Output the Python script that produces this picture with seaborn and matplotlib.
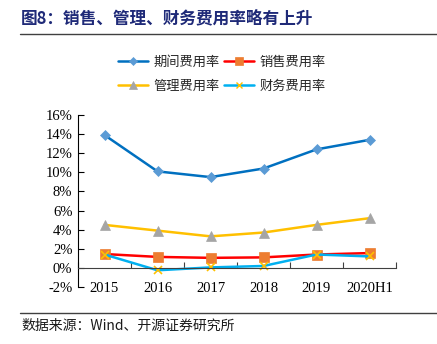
import matplotlib
matplotlib.use("Agg")
import matplotlib.pyplot as plt
from matplotlib.lines import Line2D
from matplotlib.ticker import MultipleLocator, FixedLocator, FuncFormatter
import seaborn as sns
import pandas as pd

# Expense ratios (%)
periods = ["2015", "2016", "2017", "2018", "2019", "2020H1"]
period_rate = [13.9, 10.1, 9.5, 10.4, 12.4, 13.4]
selling_rate = [1.45, 1.15, 1.05, 1.1, 1.4, 1.55]
admin_rate = [4.5, 3.9, 3.3, 3.7, 4.5, 5.2]
finance_rate = [1.4, -0.25, 0.05, 0.2, 1.4, 1.2]

series_names = ["期间费用率", "销售费用率", "管理费用率", "财务费用率"]
series_values = [period_rate, selling_rate, admin_rate, finance_rate]

sns.set_theme(style="white")
plt.rcParams["font.family"] = ["Liberation Serif", "Noto Sans CJK SC"]
plt.rcParams["axes.unicode_minus"] = False

styles = {
    "期间费用率": dict(color="#0070C0", marker="D", mfc="#5B9BD5", mec="#5B9BD5", ms=5),
    "销售费用率": dict(color="#FF0000", marker="s", mfc="#ED7D31", mec="#ED7D31", ms=6.5),
    "管理费用率": dict(color="#FFC000", marker="^", mfc="#A5A5A5", mec="#A5A5A5", ms=7),
    "财务费用率": dict(color="#00B0F0", marker="x", mfc="#FFC000", mec="#FFC000", ms=6),
}

fig = plt.figure(figsize=(4.37, 3.44), dpi=100)
ax = fig.add_axes([78 / 437, 1 - 287 / 344, (396 - 78) / 437, (287 - 115) / 344])

handles = {}
for name, vals in zip(series_names, series_values):
    df = pd.DataFrame({"x": range(len(periods)), "y": vals})
    st = styles[name]
    sns.lineplot(data=df, x="x", y="y", ax=ax, color=st["color"], linewidth=1.8,
                 marker=st["marker"], markerfacecolor=st["mfc"],
                 markeredgecolor=st["mec"], markersize=st["ms"],
                 markeredgewidth=1.2 if st["marker"] == "x" else 0.5,
                 legend=False)
    handles[name] = Line2D([0], [0], color=st["color"], linewidth=1.8,
                           marker=st["marker"], markerfacecolor=st["mfc"],
                           markeredgecolor=st["mec"], markersize=st["ms"] * 0.8,
                           markeredgewidth=1.0 if st["marker"] == "x" else 0.5)

ax.set_xlim(-0.5, len(periods) - 0.5)
ax.set_ylim(-2, 16)
ax.set_xlabel("")
ax.set_ylabel("")

# y axis
ax.yaxis.set_major_locator(MultipleLocator(2))
ax.yaxis.set_major_formatter(FuncFormatter(lambda v, p: f"{v:.0f}%"))
ax.tick_params(axis="y", direction="in", length=4, width=0.8, color="#000000",
               labelsize=10.5, labelcolor="#000000", pad=4, left=True)

# x axis: spine at zero, boundary ticks pointing up, labels below the plot
ax.spines["bottom"].set_position(("data", 0))
ax.set_xticks(range(len(periods)))
ax.set_xticklabels(periods)
ax.xaxis.set_minor_locator(FixedLocator([i - 0.5 for i in range(len(periods) + 1)]))
ax.tick_params(axis="x", which="major", length=0, labelsize=10.5,
               labelcolor="#000000", pad=10)
ax.tick_params(axis="x", which="minor", direction="in", length=4, width=0.8,
               color="#404040", bottom=True)

for side in ["top", "right"]:
    ax.spines[side].set_visible(False)
ax.spines["left"].set_color("#000000")
ax.spines["left"].set_linewidth(0.8)
ax.spines["bottom"].set_color("#404040")
ax.spines["bottom"].set_linewidth(0.8)
ax.grid(False)

# legend filled column by column, so list entries to read row by row
legend_order = ["期间费用率", "管理费用率", "销售费用率", "财务费用率"]
fig.legend([handles[n] for n in legend_order], legend_order, loc="center",
           bbox_to_anchor=(222 / 437, 1 - 74 / 344),
           ncol=2, frameon=False, handlelength=2.3, handletextpad=0.4,
           columnspacing=0.3, labelspacing=0.85,
           prop={"family": "Noto Sans CJK SC", "size": 9.5})

# title and source
fig.text(21 / 437, 1 - 18 / 344, "图8：销售、管理、财务费用率略有上升",
         family=["Noto Sans CJK SC"], fontsize=12, fontweight="bold",
         color="#1F2A78", va="center", ha="left")
fig.add_artist(Line2D([20 / 437, 1], [1 - 34 / 344] * 2, color="#404040", linewidth=1.0))
fig.add_artist(Line2D([20 / 437, 1], [1 - 313 / 344] * 2, color="#404040", linewidth=1.0))
fig.text(21 / 437, 1 - 326 / 344, "数据来源：Wind、开源证券研究所",
         family=["Noto Sans CJK SC", "Liberation Serif"], fontsize=10,
         color="#1A1A1A", va="center", ha="left")

fig.savefig("out.png", dpi=100, facecolor="white")
